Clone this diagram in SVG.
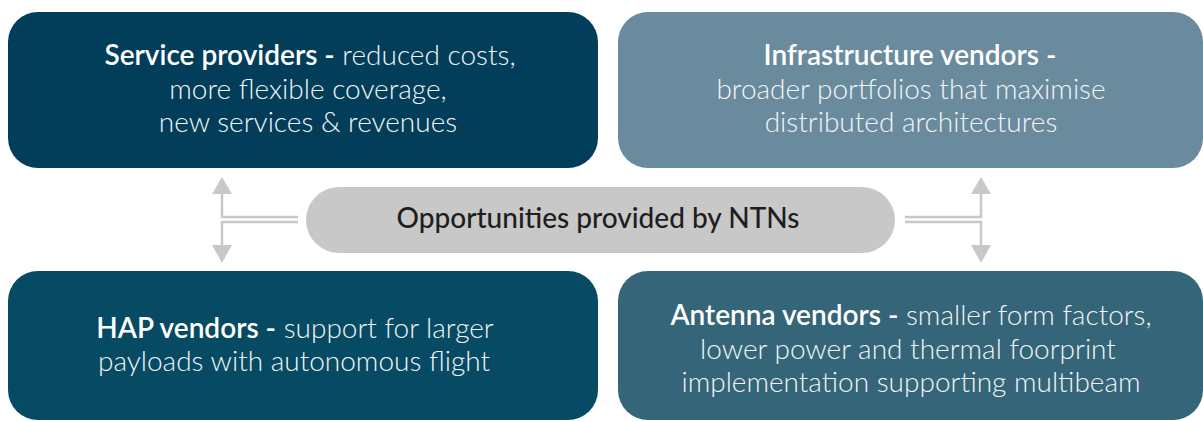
<svg xmlns="http://www.w3.org/2000/svg" width="1203" height="421" viewBox="0 0 1203 421">
<defs>
<style>
.t{font-family:Lato,"Noto Sans",sans-serif;font-size:28px;fill:#f2f5f7;text-anchor:middle;font-weight:300}
.b{font-weight:600;fill:#ffffff}
.p{font-family:Lato,"Noto Sans",sans-serif;font-size:28px;fill:#1e1e1e;text-anchor:middle;font-weight:500}
.c{fill:none;stroke:#c8c8c8;stroke-width:2.5}
</style>
</defs>
<g id="service-providers">
<rect x="8" y="12" width="590" height="156" rx="30" fill="#023e5a"/>
<text class="t" x="310" y="65"><tspan class="b">Service providers -</tspan> reduced costs,</text>
<text class="t" x="308" y="99">more flexible coverage,</text>
<text class="t" x="308" y="132">new services &amp; revenues</text>
</g>
<g id="infrastructure-vendors">
<rect x="618" y="12" width="585" height="156" rx="30" fill="#6a8b9e"/>
<text class="t" x="910" y="65"><tspan class="b">Infrastructure vendors -</tspan></text>
<text class="t" x="911" y="99">broader portfolios that maximise</text>
<text class="t" x="911" y="132">distributed architectures</text>
</g>
<g id="opportunities">
<rect x="306" y="187" width="589" height="66" rx="33" fill="#c8c8c8"/>
<text class="p" x="598" y="228">Opportunities provided by NTNs</text>
</g>
<g id="hap-vendors">
<rect x="8" y="271" width="590" height="149" rx="30" fill="#074a63"/>
<text class="t" x="295" y="338"><tspan class="b">HAP vendors -</tspan> support for larger</text>
<text class="t" x="294" y="371">payloads with autonomous flight</text>
</g>
<g id="antenna-vendors">
<rect x="618" y="271" width="585" height="149" rx="30" fill="#356579"/>
<text class="t" x="911" y="325"><tspan class="b">Antenna vendors -</tspan> smaller form factors,</text>
<text class="t" x="908" y="359">lower power and thermal foorprint</text>
<text class="t" x="911" y="392">implementation supporting multibeam</text>
</g>
<g id="connectors">
<polyline class="c" points="298,217 222,217 222,193"/>
<polyline class="c" points="298,222 222,222 222,246"/>
<polyline class="c" points="905,217 981,217 981,193"/>
<polyline class="c" points="905,222 981,222 981,246"/>
<polygon points="212,194 232,194 222,177" fill="#c8c8c8"/>
<polygon points="212,245 232,245 222,263" fill="#c8c8c8"/>
<polygon points="971,194 991,194 981,177" fill="#c8c8c8"/>
<polygon points="971,245 991,245 981,263" fill="#c8c8c8"/>
</g>
</svg>
